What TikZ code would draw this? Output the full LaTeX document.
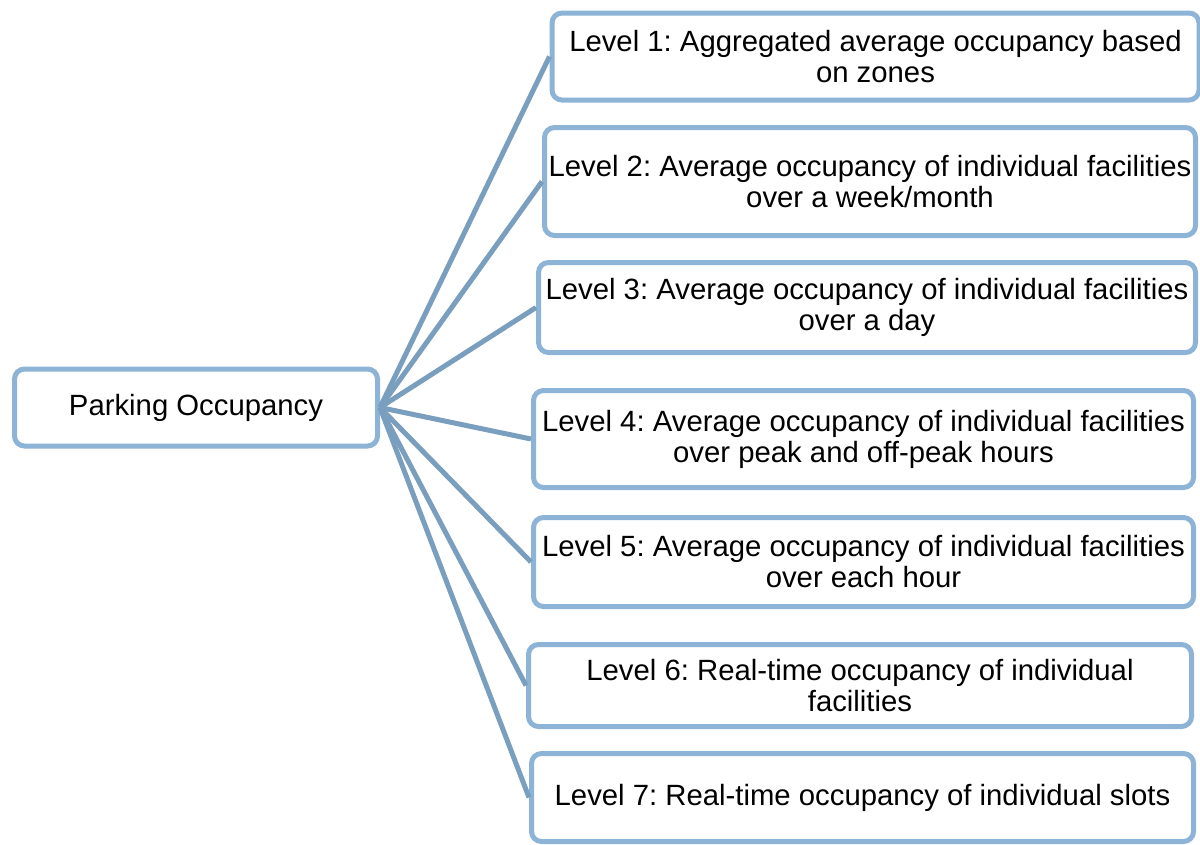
\documentclass[tikz,border=0pt]{standalone}
\usepackage{fontspec}
\setmainfont{Liberation Sans}
\frenchspacing
\definecolor{boxblue}{RGB}{141,180,214}
\definecolor{lineblue}{RGB}{122,158,190}
\begin{document}
\begin{tikzpicture}[x=1pt,y=-1pt,
  lvl/.style={draw=boxblue,line width=5pt,rounded corners=10pt,fill=white,
    inner sep=0pt,align=center,font=\fontsize{29.3}{31}\selectfont},
  conn/.style={draw=lineblue,line width=5pt}]
\useasboundingbox (0,0) rectangle (1200,844);
\node[lvl,minimum width=363pt,minimum height=77pt] (root) at (196,407.5) {Parking Occupancy};
\node[lvl,minimum width=647pt,minimum height=87pt] (l1) at (875.5,56.5) {Level 1: Aggregated average occupancy based\\on zones};
\node[lvl,minimum width=651pt,minimum height=108pt] (l2) at (870,181.5) {Level 2: Average occupancy of individual facilities\\over a week/month};
\node[lvl,minimum width=657pt,minimum height=90pt] (l3) at (867,307.5) {Level 3: Average occupancy of individual facilities\\over a day};
\node[lvl,minimum width=660pt,minimum height=97pt] (l4) at (863.5,439) {Level 4: Average occupancy of individual facilities\\over peak and off-peak hours};
\node[lvl,minimum width=660pt,minimum height=89pt] (l5) at (863.5,562) {Level 5: Average occupancy of individual facilities\\over each hour};
\node[lvl,minimum width=663pt,minimum height=82pt] (l6) at (860,685.5) {Level 6: Real-time occupancy of individual\\facilities};
\node[lvl,minimum width=662pt,minimum height=88pt] (l7) at (862.5,797.5) {Level 7: Real-time occupancy of individual slots};
\foreach \n in {l1,l2,l3,l4,l5,l6,l7}
  \draw[conn] (root.east) -- (\n.west);
\end{tikzpicture}
\end{document}
